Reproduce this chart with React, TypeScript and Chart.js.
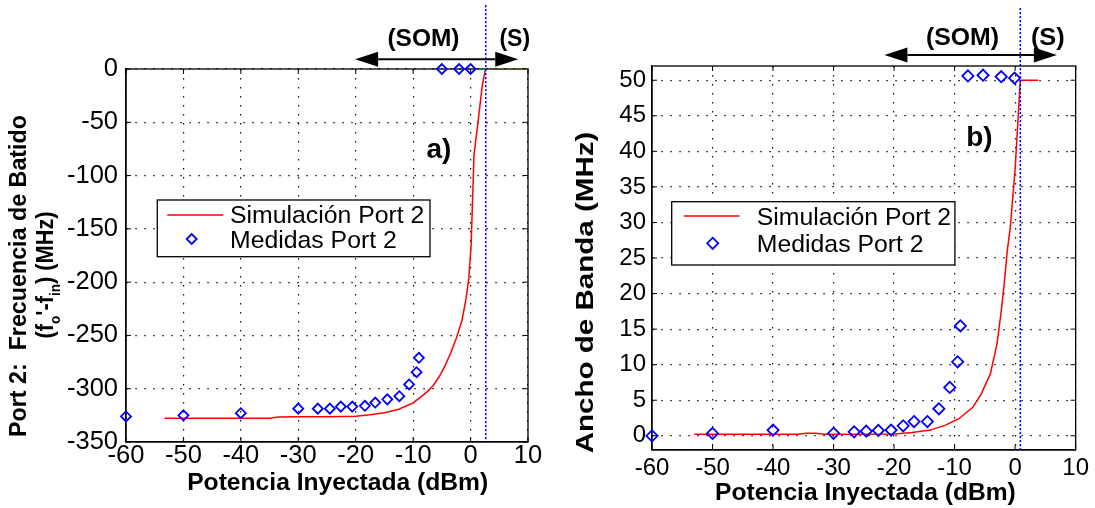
import React, { useEffect, useRef } from 'react';
import { Chart, registerables } from 'chart.js';

Chart.register(...registerables);

// ---- data -------------------------------------------------------------
const X_TICKS = [-60, -50, -40, -30, -20, -10, 0, 10];
const Y_TICKS_A = [-350, -300, -250, -200, -150, -100, -50, 0];
const Y_TICKS_B = [0, 5, 10, 15, 20, 25, 30, 35, 40, 45, 50];

// Panel a) beat frequency (MHz) vs injected power (dBm)
const SIM_A_X = [-53.3, -45, -40, -35, -33.5, -30, -25, -20, -17.5, -15, -12.5, -10, -8.5, -7.4, -6.5, -5.5, -4.5, -3.5, -2.5, -1.5, -0.8, -0.3, 0.1, 0.6, 1.25, 2.05, 2.6, 5, 10];
const SIM_A_Y = [-327.8, -327.8, -327.8, -327.6, -326.6, -326.3, -326.2, -325.8, -324.5, -322.5, -319.3, -313.3, -307, -302, -297, -289, -279, -267, -253, -236, -216, -196, -165, -80, -52, -15, 0, 0, 0];
const MEAS_A_X = [-60, -50, -40, -30, -26.6, -24.5, -22.6, -20.6, -18.4, -16.6, -14.5, -12.4, -10.7, -9.4, -9.0, -5.0, -2.0, 0];
const MEAS_A_Y = [-326, -325, -323, -318.7, -318.7, -318.7, -316.8, -316.8, -316, -313, -310, -307, -296, -284.5, -271, 0, 0, 0];

// Panel b) bandwidth (MHz) vs injected power (dBm)
const SIM_B_X = [-53, -45, -40, -36, -34.5, -33, -31.5, -28, -25, -20, -17, -14, -11.5, -9.3, -7, -5.6, -4.1, -3, -2.3, -1.8, -1.3, -0.8, 0, 0.85, 2, 3.8];
const SIM_B_Y = [0.2, 0.2, 0.2, 0.22, 0.35, 0.35, 0.2, 0.2, 0.2, 0.25, 0.45, 0.8, 1.5, 2.4, 4.0, 5.9, 8.7, 12.9, 17.5, 21.4, 26, 29.3, 37.5, 50, 50, 50];
const MEAS_B_X = [-60, -50, -40, -30, -26.6, -24.6, -22.6, -20.5, -18.5, -16.7, -14.5, -12.6, -10.8, -9.5, -9.05, -7.8, -5.3, -2.3, -0.1];
const MEAS_B_Y = [0, 0.33, 0.8, 0.35, 0.56, 0.65, 0.75, 0.8, 1.4, 2.0, 2.0, 3.8, 6.8, 10.4, 15.45, 50.6, 50.7, 50.5, 50.3];

// Injection-locking boundary (dBm) for each panel
const LOCK_A = 2.65;
const LOCK_B = 0.86;

const LEGEND_SIM = 'Simulación Port 2';
const LEGEND_MEAS = 'Medidas Port 2';
const X_TITLE = 'Potencia Inyectada (dBm)';
const Y_TITLE_A1 = 'Port 2:  Frecuencia de Batido';
const Y_TITLE_B = 'Ancho de Banda (MHz)';
const REGION_SOM = '(SOM)';
const REGION_S = '(S)';

// ---- drawing helpers --------------------------------------------------
const FONT = '"Liberation Sans", Arial, Helvetica, sans-serif';
const RED = '#ff0000';
const BLUE = '#0000ff';

type Seg = { t: string; sub?: boolean };

function fitText(ctx: CanvasRenderingContext2D, text: string, x: number, y: number, font: string, width?: number, align: CanvasTextAlign = 'center', baseline: CanvasTextBaseline = 'alphabetic') {
  ctx.save();
  ctx.font = font;
  const w = ctx.measureText(text).width;
  const sx = width ? width / w : 1;
  ctx.translate(x, y);
  ctx.scale(sx, 1);
  ctx.textAlign = align;
  ctx.textBaseline = baseline;
  ctx.fillStyle = '#000';
  ctx.fillText(text, 0, 0);
  ctx.restore();
}

function rotatedRich(ctx: CanvasRenderingContext2D, segs: Seg[], baseX: number, cy: number, size: number, length: number) {
  ctx.save();
  const big = `bold ${size}px ${FONT}`;
  const small = `bold ${Math.round(size * 0.64)}px ${FONT}`;
  const widths = segs.map((s) => {
    ctx.font = s.sub ? small : big;
    return ctx.measureText(s.t).width;
  });
  const total = widths.reduce((a, b) => a + b, 0);
  ctx.translate(baseX, cy);
  ctx.rotate(-Math.PI / 2);
  ctx.scale(length / total, 1);
  ctx.fillStyle = '#000';
  ctx.textAlign = 'left';
  ctx.textBaseline = 'alphabetic';
  let pos = -total / 2;
  segs.forEach((s, i) => {
    ctx.font = s.sub ? small : big;
    ctx.fillText(s.t, pos, s.sub ? size * 0.27 : 0);
    pos += widths[i];
  });
  ctx.restore();
}

function diamond(ctx: CanvasRenderingContext2D, x: number, y: number, r: number) {
  ctx.save();
  ctx.strokeStyle = BLUE;
  ctx.lineWidth = 1.8;
  ctx.beginPath();
  ctx.moveTo(x - r, y);
  ctx.lineTo(x, y - r);
  ctx.lineTo(x + r, y);
  ctx.lineTo(x, y + r);
  ctx.closePath();
  ctx.stroke();
  ctx.restore();
}

function doubleArrow(ctx: CanvasRenderingContext2D, x1: number, x2: number, y: number) {
  const head = 23;
  const half = 7.5;
  ctx.save();
  ctx.strokeStyle = '#000';
  ctx.fillStyle = '#000';
  ctx.lineWidth = 2;
  ctx.beginPath();
  ctx.moveTo(x1 + head, y);
  ctx.lineTo(x2 - head, y);
  ctx.stroke();
  ctx.beginPath();
  ctx.moveTo(x1, y);
  ctx.lineTo(x1 + head, y - half);
  ctx.lineTo(x1 + head, y + half);
  ctx.closePath();
  ctx.fill();
  ctx.beginPath();
  ctx.moveTo(x2, y);
  ctx.lineTo(x2 - head, y - half);
  ctx.lineTo(x2 - head, y + half);
  ctx.closePath();
  ctx.fill();
  ctx.restore();
}

// ---- panel layout -----------------------------------------------------
interface Panel {
  width: number;
  simX: number[]; simY: number[];
  measX: number[]; measY: number[];
  yTicks: number[]; yMin: number; yMax: number;
  lockX: number; lockTop: number;
  pad: { top: number; right: number };
  yAxisWidth: number; xAxisHeight: number;
  tickSize: number; yTickPad: number; xTickPad: number;
  markerR: number;
  yTitle: (ctx: CanvasRenderingContext2D) => void;
  xTitle: { cx: number; base: number; width: number };
  legend: { box: number[]; line: number[]; dia: number[]; textX: number; bases: number[] };
  arrow: { x1: number; x2: number; y: number };
  som: { x: number; base: number; width: number };
  s: { x: number; base: number; width: number };
  tag: { text: string; x: number; y: number };
}

const PANEL_A: Panel = {
  width: 548,
  simX: SIM_A_X, simY: SIM_A_Y, measX: MEAS_A_X, measY: MEAS_A_Y,
  yTicks: Y_TICKS_A, yMin: -350, yMax: 0,
  lockX: LOCK_A, lockTop: 5,
  pad: { top: 69, right: 20 },
  yAxisWidth: 126, xAxisHeight: 66,
  tickSize: 25.5, yTickPad: 8, xTickPad: 1,
  markerR: 5,
  yTitle: (ctx) => {
    rotatedRich(ctx, [{ t: Y_TITLE_A1 }], 25.5, 276, 24, 322);
    rotatedRich(ctx, [{ t: '(f' }, { t: 'o', sub: true }, { t: "'-f" }, { t: 'in', sub: true }, { t: ') (MHz)' }], 53.3, 275, 24, 127);
  },
  xTitle: { cx: 337.7, base: 490, width: 301 },
  legend: { box: [157.3, 200, 430, 256.7], line: [167.3, 223.3, 215], dia: [191.7, 239], textX: 230, bases: [223.3, 248.3] },
  arrow: { x1: -20.1, x2: 8.3, y: 59.3 },
  som: { x: -8.2, base: 46, width: 72 },
  s: { x: 7.7, base: 46, width: 30.7 },
  tag: { text: 'a)', x: -5.5, y: -76 },
};

const PANEL_B: Panel = {
  width: 547,
  simX: SIM_B_X, simY: SIM_B_Y, measX: MEAS_B_X, measY: MEAS_B_Y,
  yTicks: Y_TICKS_B, yMin: -2, yMax: 52,
  lockX: LOCK_B, lockTop: 8,
  pad: { top: 66, right: 17.7 },
  yAxisWidth: 104, xAxisHeight: 58,
  tickSize: 24, yTickPad: 6, xTickPad: 6,
  markerR: 5.6,
  yTitle: (ctx) => {
    rotatedRich(ctx, [{ t: Y_TITLE_B }], 45.3, 292.5, 24, 321.7);
  },
  xTitle: { cx: 317.4, base: 500, width: 300.7 },
  legend: { box: [123.7, 201.7, 406.9, 265], line: [135.8, 191.4, 216], dia: [164.7, 243.3], textX: 208.8, bases: [225, 252] },
  arrow: { x1: -21.6, x2: 6.9, y: 55 },
  som: { x: -8.7, base: 45, width: 73 },
  s: { x: 5.4, base: 45, width: 33.8 },
  tag: { text: 'b)', x: -5.9, y: 41.9 },
};

function buildConfig(p: Panel): any {
  const decorations = {
    id: 'panelDecorations',
    beforeDatasetsDraw(chart: any) {
      const { ctx, chartArea: a, scales } = chart;
      const xs = scales.x;
      const ys = scales.y;
      ctx.save();
      // axes box
      ctx.strokeStyle = '#000';
      ctx.lineWidth = 1.3;
      ctx.strokeRect(a.left, a.top, a.right - a.left, a.bottom - a.top);
      // inward tick marks on all four sides
      ctx.lineWidth = 1;
      ctx.beginPath();
      X_TICKS.forEach((v) => {
        const px = xs.getPixelForValue(v);
        ctx.moveTo(px, a.bottom);
        ctx.lineTo(px, a.bottom - 5);
        ctx.moveTo(px, a.top);
        ctx.lineTo(px, a.top + 5);
      });
      p.yTicks.forEach((v) => {
        const py = ys.getPixelForValue(v);
        ctx.moveTo(a.left, py);
        ctx.lineTo(a.left + 5, py);
        ctx.moveTo(a.right, py);
        ctx.lineTo(a.right - 5, py);
      });
      ctx.stroke();
      ctx.restore();
    },
    afterDraw(chart: any) {
      const { ctx, chartArea: a, scales } = chart;
      const xs = scales.x;
      const ys = scales.y;
      ctx.save();
      // locking boundary
      const lx = xs.getPixelForValue(p.lockX);
      ctx.strokeStyle = BLUE;
      ctx.lineWidth = 1.5;
      ctx.setLineDash([2.2, 1.8]);
      ctx.beginPath();
      ctx.moveTo(lx, p.lockTop);
      ctx.lineTo(lx, a.bottom);
      ctx.stroke();
      ctx.setLineDash([]);

      // region arrow and labels
      doubleArrow(ctx, xs.getPixelForValue(p.arrow.x1), xs.getPixelForValue(p.arrow.x2), p.arrow.y);
      fitText(ctx, REGION_SOM, xs.getPixelForValue(p.som.x), p.som.base, `bold 23px ${FONT}`, p.som.width);
      fitText(ctx, REGION_S, xs.getPixelForValue(p.s.x), p.s.base, `bold 23px ${FONT}`, p.s.width);

      // panel tag
      fitText(ctx, p.tag.text, xs.getPixelForValue(p.tag.x), ys.getPixelForValue(p.tag.y), `bold 28px ${FONT}`, undefined, 'center', 'middle');

      // legend
      const [bx1, by1, bx2, by2] = p.legend.box;
      ctx.fillStyle = '#fff';
      ctx.fillRect(bx1, by1, bx2 - bx1, by2 - by1);
      ctx.strokeStyle = '#000';
      ctx.lineWidth = 1.3;
      ctx.strokeRect(bx1, by1, bx2 - bx1, by2 - by1);
      const [lx1, lx2, ly] = p.legend.line;
      ctx.strokeStyle = RED;
      ctx.lineWidth = 1.5;
      ctx.beginPath();
      ctx.moveTo(lx1, ly);
      ctx.lineTo(lx2, ly);
      ctx.stroke();
      diamond(ctx, p.legend.dia[0], p.legend.dia[1], p.markerR);
      fitText(ctx, LEGEND_SIM, p.legend.textX, p.legend.bases[0], `24.8px ${FONT}`, undefined, 'left');
      fitText(ctx, LEGEND_MEAS, p.legend.textX, p.legend.bases[1], `24.8px ${FONT}`, undefined, 'left');

      // axis titles
      fitText(ctx, X_TITLE, p.xTitle.cx, p.xTitle.base, `bold 23.5px ${FONT}`, p.xTitle.width);
      p.yTitle(ctx);
      ctx.restore();
    },
  };

  return {
    type: 'scatter',
    data: {
      datasets: [
        {
          label: LEGEND_MEAS,
          data: p.measX.map((x, i) => ({ x, y: p.measY[i] })),
          showLine: false,
          pointStyle: 'rectRot',
          pointRadius: p.markerR,
          pointBorderWidth: 1.8,
          pointBorderColor: BLUE,
          pointBackgroundColor: 'rgba(0,0,0,0)',
          borderColor: BLUE,
          backgroundColor: 'rgba(0,0,0,0)',
          clip: false,
          order: 0,
        },
        {
          label: LEGEND_SIM,
          data: p.simX.map((x, i) => ({ x, y: p.simY[i] })),
          showLine: true,
          pointRadius: 0,
          borderColor: RED,
          borderWidth: 1.5,
          backgroundColor: RED,
          tension: 0,
          order: 1,
        },
      ],
    },
    options: {
      animation: false,
      responsive: false,
      devicePixelRatio: 1,
      layout: { padding: { top: p.pad.top, right: p.pad.right, left: 0, bottom: 0 } },
      plugins: { legend: { display: false }, tooltip: { enabled: false } },
      events: [],
      scales: {
        x: {
          type: 'linear',
          min: -60,
          max: 10,
          afterBuildTicks: (s: any) => { s.ticks = X_TICKS.map((value) => ({ value })); },
          afterFit: (s: any) => { s.height = p.xAxisHeight; },
          ticks: {
            color: '#000',
            padding: p.xTickPad,
            maxRotation: 0,
            autoSkip: false,
            font: { family: FONT, size: p.tickSize, lineHeight: 1 },
            callback: (v: any) => String(v),
          },
          grid: { color: '#111', lineWidth: 1.2, drawTicks: false },
          border: { display: true, color: '#000', width: 1.3, dash: [1.5, 7.5] },
        },
        y: {
          type: 'linear',
          min: p.yMin,
          max: p.yMax,
          afterBuildTicks: (s: any) => { s.ticks = p.yTicks.map((value) => ({ value })); },
          afterFit: (s: any) => { s.width = p.yAxisWidth; },
          ticks: {
            color: '#000',
            padding: p.yTickPad,
            autoSkip: false,
            font: { family: FONT, size: p.tickSize, lineHeight: 1 },
            callback: (v: any) => String(v),
          },
          grid: { color: '#111', lineWidth: 1.2, drawTicks: false },
          border: { display: true, color: '#000', width: 1.3, dash: [1.5, 7.5] },
        },
      },
    },
    plugins: [decorations],
  };
}

function PanelChart({ panel, left }: { panel: Panel; left: number }) {
  const ref = useRef<HTMLCanvasElement | null>(null);
  useEffect(() => {
    if (!ref.current) return;
    const chart = new Chart(ref.current, buildConfig(panel));
    return () => chart.destroy();
  }, [panel]);
  return (
    <canvas
      ref={ref}
      width={panel.width}
      height={508}
      style={{ position: 'absolute', left, top: 0, width: panel.width, height: 508 }}
    />
  );
}

export default function App() {
  return (
    <div style={{ position: 'absolute', left: 0, top: 0, width: 1095, height: 508, background: '#fff', overflow: 'hidden' }}>
      <PanelChart panel={PANEL_A} left={0} />
      <PanelChart panel={PANEL_B} left={548} />
    </div>
  );
}
